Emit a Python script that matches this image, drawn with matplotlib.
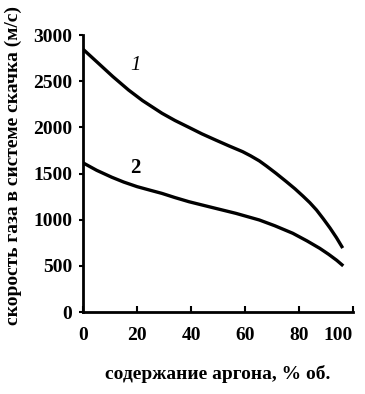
import matplotlib
matplotlib.use("Agg")
import matplotlib.pyplot as plt

argon1 = [0, 5.6, 11, 16.8, 22, 29.2, 34, 39.2, 44, 49.1, 54, 59.1, 62, 65.3, 68, 71.5, 75.2, 78.5, 81.5, 84, 86.5, 89, 91.5, 93.9, 96.2]
speed1 = [2845, 2695, 2550, 2405, 2290, 2153, 2075, 2000, 1930, 1863, 1800, 1737, 1693, 1637, 1580, 1502, 1415, 1335, 1255, 1185, 1105, 1010, 910, 805, 693]
argon2 = [0, 5, 10.6, 15, 20, 25, 29.2, 34, 39.2, 44, 49.1, 56.6, 65.3, 71, 77.7, 83, 87.7, 91, 94, 96.4]
speed2 = [1615, 1535, 1460, 1408, 1358, 1318, 1285, 1240, 1195, 1160, 1123, 1069, 997, 935, 853, 770, 690, 625, 560, 500]
xticks = [0, 20, 40, 60, 80, 100]
yticks = [0, 500, 1000, 1500, 2000, 2500, 3000]
xlabel = "содержание аргона, % об."
ylabel = "скорость газа в системе скачка (м/с)"

plt.rcParams['font.family'] = ['Liberation Serif', 'DejaVu Serif']
fig = plt.figure(figsize=(3.65, 3.94), dpi=100)
ax = fig.add_axes([0.228, 0.208, 0.739, 0.703])
ax.plot(argon1, speed1, color='black', lw=2.4, solid_capstyle='butt', solid_joinstyle='round')
ax.plot(argon2, speed2, color='black', lw=2.4, solid_capstyle='butt', solid_joinstyle='round')
ax.text(19.3, 2665, "1", fontsize=15, style='italic', ha='center', va='center')
ax.text(19.3, 1557, "2", fontsize=15, fontweight='bold', ha='center', va='center')
ax.set_xlim(0, 100)
ax.set_ylim(0, 3000)
ax.set_xticks(xticks)
ax.set_yticks(yticks)
ax.spines['top'].set_visible(False)
ax.spines['right'].set_visible(False)
ax.spines['left'].set_linewidth(2)
ax.spines['bottom'].set_linewidth(2)
ax.tick_params(axis='y', direction='out', length=3, width=1.5, labelsize=14, pad=5)
ax.tick_params(axis='x', direction='in', length=4, width=1.5, labelsize=14, pad=11)
for lab in ax.get_xticklabels() + ax.get_yticklabels():
    lab.set_fontweight('bold')
ax.get_xticklabels()[-1].set_horizontalalignment('right')
ax.set_xlabel(xlabel, fontsize=14, labelpad=15, fontweight='bold')
ax.set_ylabel(ylabel, fontsize=14, labelpad=8, fontweight='bold')
ax.yaxis.label.set_y(0.53)
fig.savefig("out.png", dpi=100)
